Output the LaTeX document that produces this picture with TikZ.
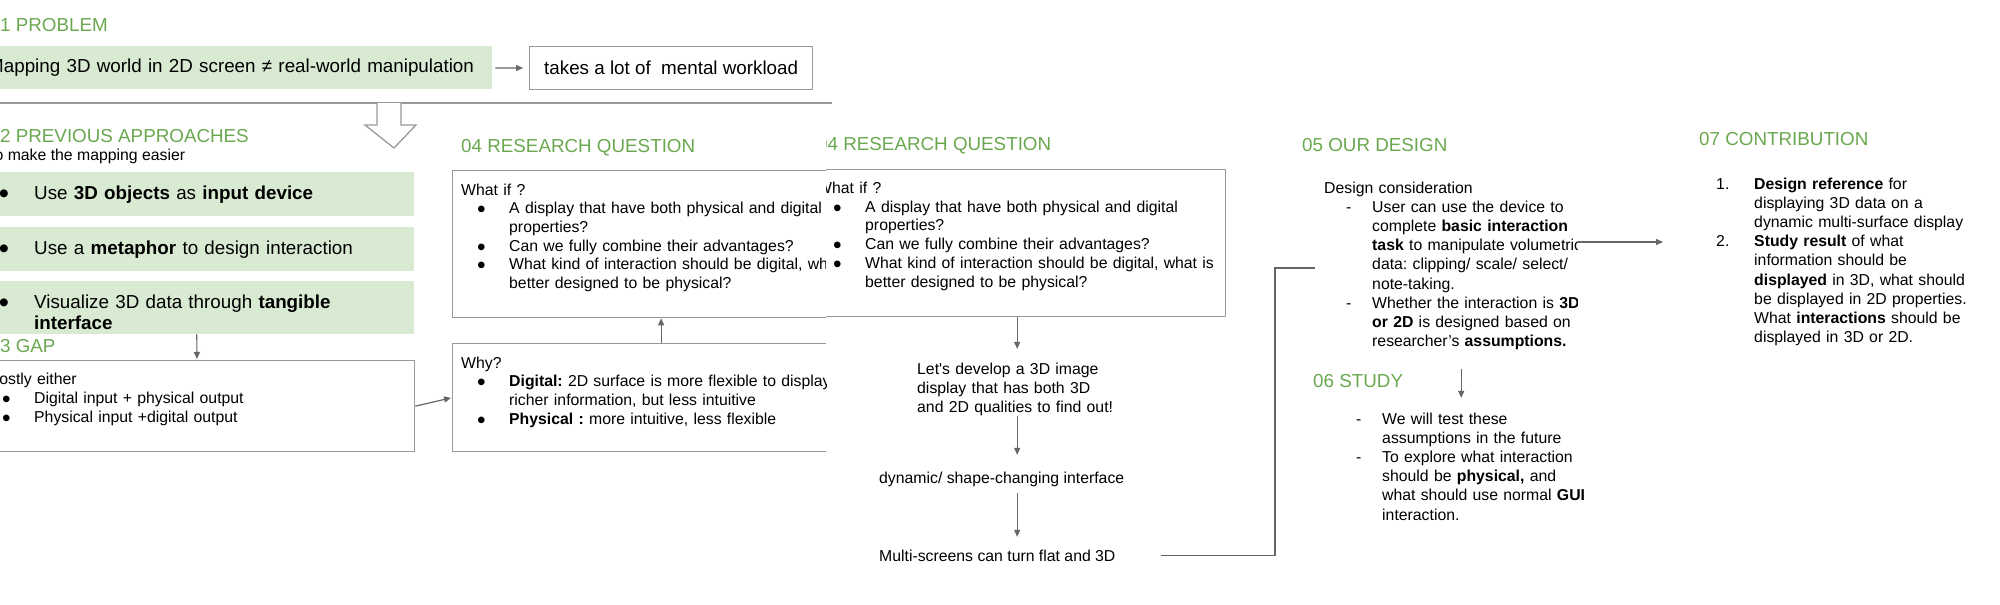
\documentclass[tikz,border=0pt]{standalone}
\usepackage{fontspec}
\setmainfont{Liberation Sans}
\usetikzlibrary{arrows.meta, positioning, calc}
\definecolor{sage}{RGB}{106,168,79}
\definecolor{mint}{RGB}{217,234,211}
\definecolor{frame}{RGB}{153,153,153}
\definecolor{lead}{RGB}{102,102,102}
\frenchspacing
\newcommand{\bdot}{\raisebox{-0.25em}{\scalebox{1.55}{\textbullet}}}
\newcommand{\bigitm}{\leavevmode\llap{\bdot\hspace{25pt}}}
\newcommand{\itm}{\leavevmode\hspace*{16pt}\makebox[32pt][l]{\bdot}}
\newcommand{\ind}{\leavevmode\hspace*{48pt}}
\newcommand{\dsh}{\leavevmode\hspace*{22pt}\makebox[26pt][l]{-}}
\newcommand{\nbr}[1]{\leavevmode\makebox[38pt][l]{#1}}
\newcommand{\nind}{\leavevmode\hspace*{38pt}}

\begin{document}
\begin{tikzpicture}[x=1pt, y=-1pt,
  head/.style={font=\fontsize{18.8}{21.6}\selectfont, text=sage, inner sep=0pt, anchor=base west},
  big/.style={font=\fontsize{18.8}{21.6}\selectfont, inner sep=0pt, anchor=base west, text width=#1, align=left},
  big/.default=360,
  txt/.style={font=\fontsize{15.8}{19.2}\selectfont, inner sep=0pt, anchor=base west},
  para/.style={txt, text width=#1, align=left},
  para/.default=300,
  tight/.style={para=420, font=\fontsize{15.8}{18.7}\selectfont},
  gbox/.style={fill=mint, inner sep=0pt, anchor=north west},
  wbox/.style={draw=frame, line width=1.3pt, fill=white, inner sep=0pt, anchor=north west},
  arr/.style={draw=lead, line width=1.2pt, -{Triangle[length=7pt,width=6pt]}},
  link/.style={draw=lead, line width=1.2pt},
  rule/.style={draw=frame, line width=1.3pt}]
  \useasboundingbox (0,0) rectangle (2000,605);
  \clip (0,0) rectangle (2000,605);

  % 01 problem
  \node[head] (h1) at (-10.5,31) {01 PROBLEM};
  \node[gbox, font=\fontsize{18.8}{21.6}\selectfont, text width=504, minimum height=43, align=left] (prob) at (-12,46)
    {Mapping 3D world in 2D screen ≠ real-world manipulation};
  \node[wbox, font=\fontsize{18.8}{21.6}\selectfont, minimum width=283, minimum height=43] (load) at (529,46)
    {takes a lot of\ \ mental workload};
  \draw[arr, shorten <=3pt, shorten >=6pt] (prob) -- (load);
  \draw[rule] (0,103) -- (832,103);
  \draw[rule, fill=white] (377,103) -- (377,125) -- (365,125) -- (394,148) -- (416,125) -- (401,125) -- (401,103);

  % 02 previous approaches
  \node[head] (h2) at (-10.5,142) {02 PREVIOUS APPROACHES};
  \node[txt] (sub2) at (-13.5,160) {To make the mapping easier};
  \foreach \n/\y/\h in {1/172/44, 2/227/44, 3/281/53}
    \node[gbox, minimum width=435, minimum height=\h] (apr\n) at (-21,\y) {};
  \node[big] (apr1t) at (34,199) {\bigitm Use \textbf{3D objects} as \textbf{input device}};
  \node[big] (apr2t) at (34,254) {\bigitm Use a \textbf{metaphor} to design interaction};
  \node[big] (apr3t) at (34,308) {\bigitm Visualize 3D data through \textbf{tangible}\\ \textbf{interface}};

  % 03 gap
  \node[head] (h3) at (-10.5,352) {03 GAP};
  \node[wbox, minimum width=435, minimum height=91] (gap) at (-21,360) {};
  \node[para] (gapt) at (-14,384) {Mostly either\\ \itm Digital input + physical output\\ \itm Physical input +digital output};
  \draw[arr, shorten >=1pt] (apr3) -- (gap);

  % 04 research question (two copies)
  \foreach \dx/\dy/\xa/\xb/\s in {0/0/0/826/a, 356/-1.5/826/2000/b} {
    \begin{scope}
      \clip (\xa,0) rectangle (\xb,605);
      \node[head] (h4\s) at (461+\dx,152+\dy) {04 RESEARCH QUESTION};
      \node[wbox, minimum width=417, minimum height=147] (whatif\s) at (452+\dx,170+\dy) {};
      \node[tight] (whatift\s) at (461+\dx,195+\dy) {What if ?\\
        \itm A display that have both physical and digital\\ \ind properties?\\
        \itm Can we fully combine their advantages?\\
        \itm What kind of interaction should be digital, what is\\ \ind better designed to be physical?};
    \end{scope}
  }
  \begin{scope}
    \clip (0,0) rectangle (826,605);
    \node[wbox, minimum width=417, minimum height=108] (why) at (452,343) {};
    \node[tight] (whyt) at (461,368) {Why?\\
      \itm \textbf{Digital:} 2D surface is more flexible to display\\ \ind richer information, but less intuitive\\
      \itm \textbf{Physical :} more intuitive, less flexible};
  \end{scope}
  \draw[arr, shorten >=1pt] (gap.east) -- (why.west);
  \draw[arr] (why) -- (whatifa);

  % idea chain
  \node[para=260] (dev) at (917,374) {Let\textquotesingle s develop a 3D image\\ display that has both 3D\\ and 2D qualities to find out!};
  \node[txt] (dyn) at (879,483) {dynamic/ shape-changing interface};
  \node[txt] (multi) at (879,561) {Multi-screens can turn flat and 3D};
  \draw[arr, shorten >=13.5pt] (whatifb) -- (whatifb.south |- dev.north);
  \draw[arr, shorten >=16.5pt] (whatifb.south |- dev.south) -- (whatifb.south |- dyn.north);
  \draw[arr, shorten <=6.7pt, shorten >=12.5pt] (whatifb.south |- dyn.south) -- (whatifb.south |- multi.north);

  % 05 our design
  \node[head] (h5) at (1302,151) {05 OUR DESIGN};
  \begin{scope}
    \clip (0,0) rectangle (1577,605);
    \node[para=274] (design) at (1324,193) {Design consideration\\
      \dsh User can use the device to\\ \ind complete \textbf{basic interaction}\\
      \ind \textbf{task} to manipulate volumetric\\ \ind data: clipping/ scale/ select/\\ \ind note-taking.\\
      \dsh Whether the interaction is \textbf{3D}\\ \ind \textbf{or 2D} is designed based on\\
      \ind researcher’s \textbf{assumptions.}};
  \end{scope}
  \coordinate (bend) at (1275,268);
  \draw[link] ([xshift=45pt]multi.east) -| (bend) -- ([xshift=-9pt]design.west |- bend);

  % 06 study
  \node[head] (h6) at (1313,387) {06 STUDY};
  \node[para=270] (study) at (1334,424) {\dsh We will test these\\ \ind assumptions in the future\\
    \dsh To explore what interaction\\ \ind should be \textbf{physical,} and\\
    \ind what should use normal \textbf{GUI}\\ \ind interaction.};
  \draw[arr, shorten <=18.7pt, shorten >=14.5pt] (design.south) -- (design.south |- study.north);

  % 07 contribution
  \node[head] (h7) at (1699,145) {07 CONTRIBUTION};
  \node[para=270] (contrib) at (1716,189) {\nbr{1.}\textbf{Design reference} for\\
    \nind displaying 3D data on a\\ \nind dynamic multi-surface display\\
    \nbr{2.}\textbf{Study result} of what\\ \nind information should be\\
    \nind \textbf{displayed} in 3D, what should\\ \nind be displayed in 2D properties.\\
    \nind What \textbf{interactions} should be\\ \nind displayed in 3D or 2D.};
  \coordinate (tap) at (1577,242);
  \draw[arr] (tap) -- ([xshift=-53pt]contrib.west |- tap);
\end{tikzpicture}
\end{document}
